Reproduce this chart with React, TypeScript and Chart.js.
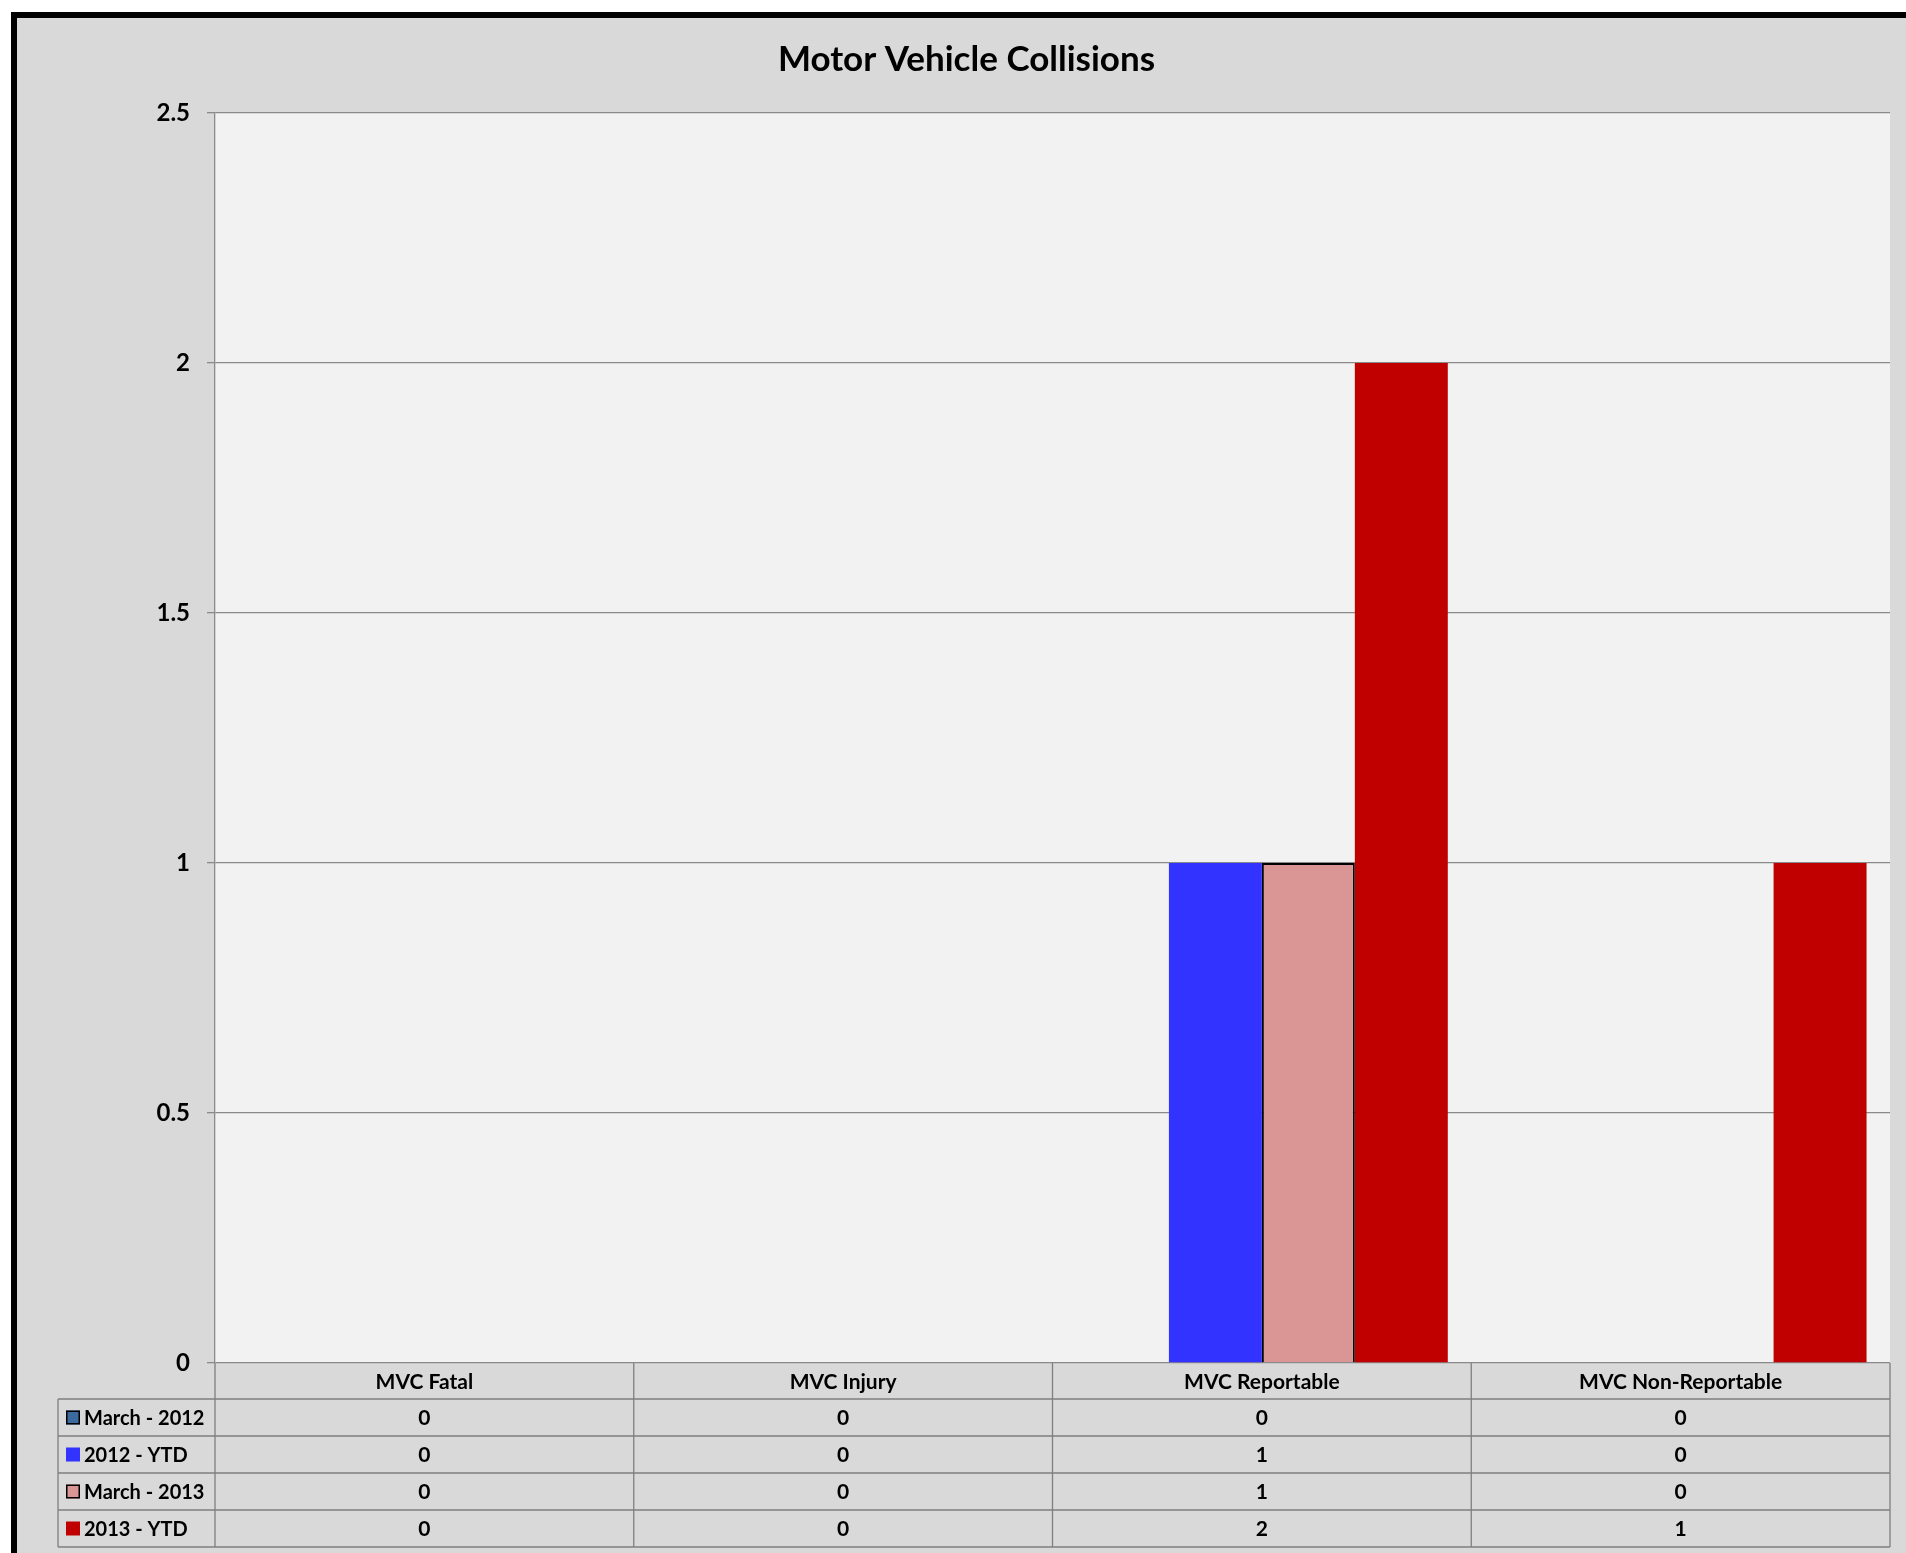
import React, { useEffect, useRef } from "react";
import { Chart, registerables } from "chart.js";

Chart.register(...registerables);

// ---- data ----
const chartTitle = "Motor Vehicle Collisions";
const categories = ["MVC Fatal", "MVC Injury", "MVC Reportable", "MVC Non-Reportable"];
const seriesNames = ["March - 2012", "2012 - YTD", "March - 2013", "2013 - YTD"];
const march2012 = [0, 0, 0, 0];
const ytd2012 = [0, 0, 1, 0];
const march2013 = [0, 0, 1, 0];
const ytd2013 = [0, 0, 2, 1];
const yMin = 0;
const yMax = 2.5;
const yStep = 0.5;

// ---- styles ----
const seriesColors = ["#3b6a9e", "#3333ff", "#d99694", "#c00000"];
const seriesBorders = [true, false, true, false];
const FONT = "Lato, 'Open Sans', sans-serif";

const tablePlugin = {
  id: "tableAndTitle",
  beforeDraw(chart: any) {
    const { ctx, chartArea: a } = chart;
    ctx.save();
    ctx.fillStyle = "#f2f2f2";
    ctx.fillRect(a.left, a.top, a.right - a.left, a.bottom - a.top);
    ctx.restore();
  },
  afterDraw(chart: any) {
    const { ctx, chartArea: a } = chart;
    const xs = chart.scales.x;
    const data = chart.data.datasets;
    ctx.save();

    // title
    ctx.fillStyle = "#000";
    ctx.font = `bold 35px ${FONT}`;
    ctx.textAlign = "center";
    ctx.textBaseline = "alphabetic";
    ctx.fillText(chartTitle, chart.width / 2 + 5, 53);

    // table geometry
    const catW = xs.getPixelForValue(1) - xs.getPixelForValue(0);
    const edges: number[] = categories.map((_, i) => xs.getPixelForValue(i) - catW / 2);
    edges.push(xs.getPixelForValue(categories.length - 1) + catW / 2);
    const headerTop = a.bottom;
    const headerBottom = headerTop + 36;
    const rowH = 37;
    const tableLeft = 41;
    const rowLines = [headerBottom];
    for (let r = 0; r < seriesNames.length; r++) rowLines.push(headerBottom + rowH * (r + 1));
    const tableBottom = rowLines[rowLines.length - 1];

    ctx.strokeStyle = "#7f7f7f";
    ctx.lineWidth = 1.3;
    ctx.beginPath();
    rowLines.forEach((y) => {
      ctx.moveTo(tableLeft, y);
      ctx.lineTo(edges[edges.length - 1], y);
    });
    edges.forEach((x) => {
      ctx.moveTo(x, headerTop);
      ctx.lineTo(x, tableBottom);
    });
    ctx.moveTo(tableLeft, headerBottom);
    ctx.lineTo(tableLeft, tableBottom);
    ctx.stroke();

    // header text
    ctx.fillStyle = "#000";
    ctx.font = `bold 21px ${FONT}`;
    ctx.textAlign = "center";
    ctx.textBaseline = "middle";
    categories.forEach((c, i) => {
      ctx.fillText(c, (edges[i] + edges[i + 1]) / 2, (headerTop + headerBottom) / 2 + 1);
    });

    // rows
    data.forEach((ds: any, r: number) => {
      const yc = rowLines[r] + rowH / 2 + 1;
      const ks = 14;
      const kx = tableLeft + 8;
      const ky = yc - ks / 2 - 1;
      ctx.fillStyle = seriesColors[r];
      ctx.fillRect(kx, ky, ks, ks);
      if (seriesBorders[r]) {
        ctx.strokeStyle = "#000";
        ctx.lineWidth = 1.5;
        ctx.strokeRect(kx + 0.75, ky + 0.75, ks - 1.5, ks - 1.5);
      }
      ctx.fillStyle = "#000";
      ctx.textAlign = "left";
      ctx.font = `bold 20px ${FONT}`;
      ctx.fillText(ds.label, kx + ks + 4, yc);
      ctx.textAlign = "center";
      ctx.font = `bold 21px ${FONT}`;
      ds.data.forEach((v: number, i: number) => {
        ctx.fillText(String(v), (edges[i] + edges[i + 1]) / 2, yc);
      });
    });
    ctx.restore();
  },
};

export default function App() {
  const canvasRef = useRef<HTMLCanvasElement | null>(null);

  useEffect(() => {
    if (!canvasRef.current) return;
    const seriesValues = [march2012, ytd2012, march2013, ytd2013];
    const chart = new Chart(canvasRef.current, {
      type: "bar",
      data: {
        labels: categories,
        datasets: seriesNames.map((name, i) => ({
          label: name,
          data: seriesValues[i],
          backgroundColor: seriesColors[i],
          borderColor: "#000",
          borderWidth: (c: any) => (seriesBorders[i] && c.raw !== 0 ? 2 : 0),
          categoryPercentage: 0.888,
          barPercentage: 1,
        })),
      },
      options: {
        animation: false,
        responsive: true,
        maintainAspectRatio: false,
        layout: { padding: { top: 95, right: 16, bottom: 190, left: 0 } },
        plugins: {
          legend: { display: false },
          title: { display: false },
          tooltip: { enabled: false },
        },
        scales: {
          x: { display: false },
          y: {
            min: yMin,
            max: yMax,
            ticks: {
              stepSize: yStep,
              padding: 17,
              color: "#000",
              font: { family: FONT, size: 24, weight: "bold" },
              callback: (v: any) => String(Number(v)),
            },
            grid: { color: "#8a8a8a", lineWidth: 1.3, tickLength: 8 },
            border: { color: "#8a8a8a", width: 1.3 },
            afterFit: (scale: any) => {
              scale.width = 198;
            },
          },
        },
      },
      plugins: [tablePlugin],
    });
    return () => chart.destroy();
  }, []);

  return (
    <div
      style={{
        position: "fixed",
        left: 11,
        top: 12,
        width: 1895,
        height: 1541,
        borderLeft: "6px solid #000",
        borderTop: "6px solid #000",
        background: "#d9d9d9",
        boxSizing: "border-box",
      }}
    >
      <div style={{ position: "relative", width: 1889, height: 1535 }}>
        <canvas ref={canvasRef} />
      </div>
    </div>
  );
}
